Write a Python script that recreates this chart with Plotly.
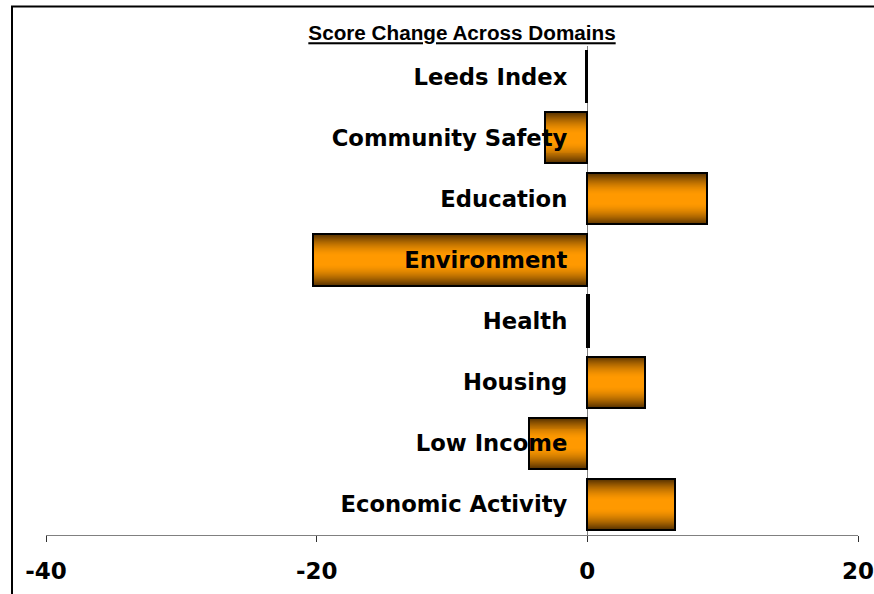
import plotly.graph_objects as go

categories = ["Leeds Index", "Community Safety", "Education", "Environment",
              "Health", "Housing", "Low Income", "Economic Activity"]
score_change = [-0.1, -3.1, 8.85, -20.3, 0.1, 4.27, -4.32, 6.49]
tick_values = [-40, -20, 0, 20]
tick_labels = ["-40", "-20", "0", "20"]

fig = go.Figure()

BAR_W = 0.84
K = 26
dark = (88, 50, 0)
bright = (255, 153, 0)
for i in range(K):
    f = min(1.0, (i / (K - 1)) / 0.85)
    f = 1 - (1 - f) ** 1.6
    c = tuple(int(round(d + (b - d) * f)) for d, b in zip(dark, bright))
    w = BAR_W * (1 - i / K)
    fig.add_trace(go.Bar(
        y=categories, x=score_change, orientation="h",
        width=w, marker=dict(color="rgb(%d,%d,%d)" % c, line=dict(width=0)),
        hoverinfo="skip", showlegend=False,
    ))
# outline
fig.add_trace(go.Bar(
    y=categories, x=score_change, orientation="h", width=BAR_W,
    marker=dict(color="rgba(0,0,0,0)", line=dict(color="black", width=2)),
    showlegend=False,
))

W, H = 874, 594
ml, mr, mt, mb = 46, 16, 46, 59
pw, ph = W - ml - mr, H - mt - mb

fig.update_layout(
    width=W, height=H, autosize=False,
    margin=dict(l=ml, r=mr, t=mt, b=mb),
    paper_bgcolor="white", plot_bgcolor="white",
    barmode="overlay", bargap=0,
    title=dict(text="<b><u>Score Change Across Domains</u></b>",
               font=dict(family="Liberation Sans, Arial", size=20.7, color="black"),
               x=462 / W, xref="container", xanchor="center",
               y=1 - 33 / H, yref="container", yanchor="middle"),
    xaxis=dict(range=[-40, 20], tickvals=tick_values, ticktext=tick_labels,
               automargin=False,
               showgrid=False, zeroline=True, zerolinecolor="#808080", zerolinewidth=1,
               showline=True, linecolor="#808080", linewidth=1,
               ticks="outside", ticklen=6, tickcolor="#303030", tickwidth=1,
               ticklabelstandoff=9, ticklabeloverflow="allow",
               tickfont=dict(family="DejaVu Sans", size=23, color="black", weight="bold")),
    yaxis=dict(categoryorder="array", categoryarray=categories, autorange="reversed",
               automargin=False,
               anchor="free", position=2 / 3, showgrid=False, zeroline=False,
               showline=False, ticks="", ticklabelstandoff=20,
               tickfont=dict(family="DejaVu Sans", size=22.7, color="black", weight="bold")),
    shapes=[dict(type="rect", xref="paper", yref="paper",
                 x0=(12 - ml) / pw, x1=1.2, y0=-0.3, y1=(H - mb - 6.5) / ph,
                 line=dict(color="black", width=2), fillcolor="rgba(0,0,0,0)",
                 layer="above")],
)

post = ("document.body.style.margin='0';document.body.style.overflow='hidden';"
        "var gd=document.getElementById('{plot_id}');"
        "Plotly.relayout(gd,{width:%d,height:%d});" % (W, H))
fig.write_html("out.html", post_script=post, config={"displayModeBar": False})
